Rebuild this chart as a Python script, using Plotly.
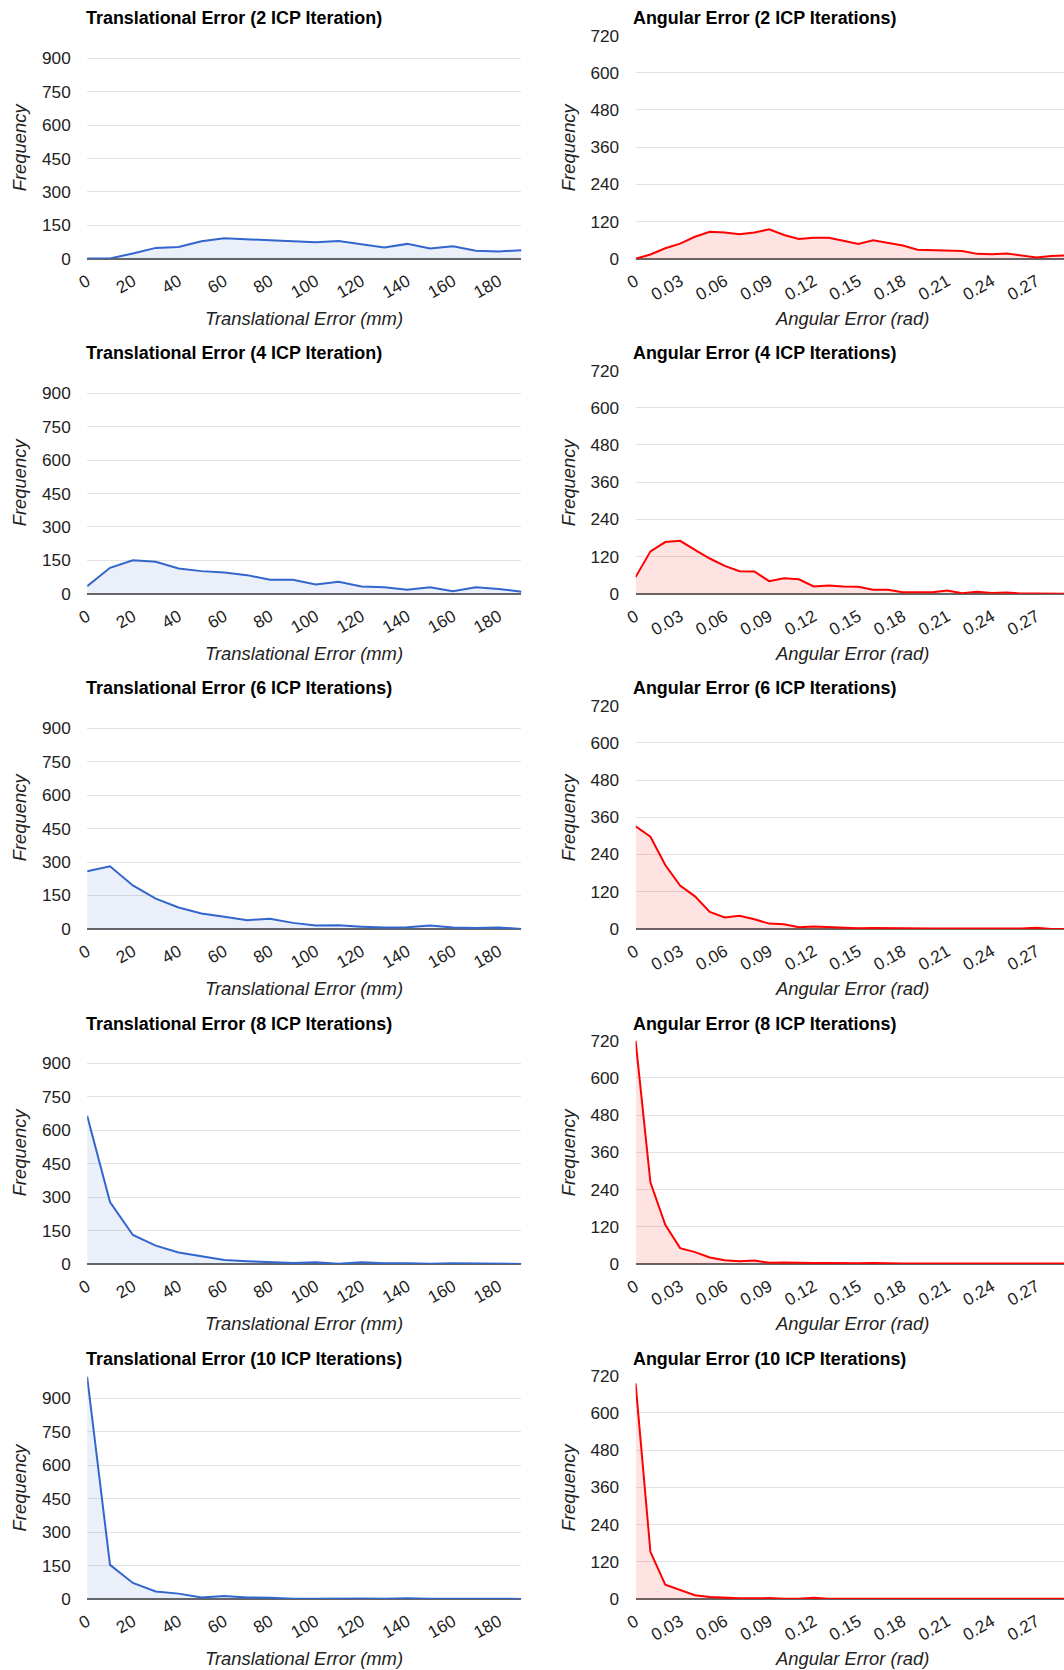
import plotly.graph_objects as go

# ---------------- data ----------------
trans_x = [0, 10, 20, 30, 40, 50, 60, 70, 80, 90, 100, 110, 120, 130, 140, 150, 160, 170, 180, 190]
ang_x = [0.00, 0.01, 0.02, 0.03, 0.04, 0.05, 0.06, 0.07, 0.08, 0.09, 0.10, 0.11, 0.12, 0.13, 0.14,
         0.15, 0.16, 0.17, 0.18, 0.19, 0.20, 0.21, 0.22, 0.23, 0.24, 0.25, 0.26, 0.27, 0.28, 0.29]

trans_2 = [1, 2, 24, 49, 53, 79, 92, 86, 83, 79, 74, 80, 64, 51, 67, 46, 56, 36, 33, 39]
trans_4 = [34, 117, 151, 144, 114, 102, 96, 84, 63, 63, 42, 54, 33, 30, 19, 30, 12, 30, 22, 10]
trans_6 = [259, 281, 195, 136, 96, 69, 54, 39, 46, 27, 15, 16, 10, 6, 7, 15, 6, 4, 6, 0]
trans_8 = [665, 278, 130, 82, 51, 34, 18, 12, 9, 4, 7, 1, 7, 3, 3, 1, 3, 3, 0, 0]
trans_10 = [997, 153, 72, 34, 24, 7, 13, 7, 6, 1, 1, 3, 2, 1, 3, 1, 2, 1, 1, 0]

ang_2 = [0, 14, 34, 49, 71, 87, 85, 79, 85, 95, 77, 64, 68, 68, 58, 48, 60, 52, 43, 29,
         27, 25, 25, 16, 15, 17, 11, 4, 9, 11]
ang_4 = [54, 137, 167, 171, 142, 114, 90, 73, 72, 41, 50, 47, 24, 27, 24, 23, 13, 13, 5, 5,
         5, 11, 2, 7, 3, 4, 1, 1, 1, 0]
ang_6 = [331, 297, 206, 140, 105, 55, 37, 42, 31, 17, 15, 5, 8, 6, 4, 2, 3, 2, 1, 2,
         1, 1, 2, 1, 1, 1, 1, 4, 0, 0]
ang_8 = [720, 263, 126, 51, 38, 21, 12, 9, 11, 4, 5, 3, 3, 3, 2, 2, 3, 1, 1, 1,
         1, 1, 1, 1, 1, 1, 1, 1, 1, 1]
ang_10 = [695, 152, 46, 29, 12, 6, 3, 2, 2, 3, 1, 1, 4, 1, 1, 1, 1, 3, 1, 1,
          1, 1, 1, 1, 1, 1, 1, 1, 1, 1]

trans_series = [trans_2, trans_4, trans_6, trans_8, trans_10]
ang_series = [ang_2, ang_4, ang_6, ang_8, ang_10]

trans_titles = ["Translational Error (2 ICP Iteration)",
                "Translational Error (4 ICP Iteration)",
                "Translational Error (6 ICP Iterations)",
                "Translational Error (8 ICP Iterations)",
                "Translational Error (10 ICP Iterations)"]
ang_titles = ["Angular Error (2 ICP Iterations)",
              "Angular Error (4 ICP Iterations)",
              "Angular Error (6 ICP Iterations)",
              "Angular Error (8 ICP Iterations)",
              "Angular Error (10 ICP Iterations)"]

trans_xtitle = "Translational Error (mm)"
ang_xtitle = "Angular Error (rad)"
y_title = "Frequency"

trans_yticks = [0, 150, 300, 450, 600, 750, 900]
ang_yticks = [0, 120, 240, 360, 480, 600, 720]
trans_xticks = [0, 20, 40, 60, 80, 100, 120, 140, 160, 180]
ang_xticks = [0, 0.03, 0.06, 0.09, 0.12, 0.15, 0.18, 0.21, 0.24, 0.27]

# ---------------- geometry ----------------
# target positions are given in screenshot pixels; the capture shows the page
# at a scale of about S, with an 8px body margin around the figure.
S = 0.988
MARGIN = 8
W = round(1064 / S) - MARGIN
H = round(1670 / S) - MARGIN


def fx(t):
    return (t / S - MARGIN) / W


def fy(t):
    return 1 - (t / S - MARGIN) / H


def fs(size):
    return size / S


ROW_STEP = 335.0
BASE0 = 256.7
PLOT_H = 223.3
L_X0, L_X1 = 83, 517
R_X0 = 631
ANG_PX_PER_RAD = 1483.0

FONT = "Liberation Sans, Arial, sans-serif"
TXT = "#222222"
BLUE = "#3366cc"
RED = "#ff0000"
GRID = "#e3e3e3"

fig = go.Figure()
annotations = []
layout = dict(
    width=W, height=H, autosize=False,
    margin=dict(l=0, r=0, t=0, b=0, pad=0),
    paper_bgcolor="white", plot_bgcolor="white",
    showlegend=False,
    font=dict(family=FONT, size=fs(17), color=TXT),
)

axis_common_x = dict(
    showgrid=False, zeroline=False, showline=False,
    tickangle=-30, ticks="outside", ticklen=5, tickcolor="rgba(0,0,0,0)",
    tickfont=dict(family=FONT, size=fs(17), color=TXT),
    fixedrange=True,
)
axis_common_y = dict(
    showgrid=True, gridcolor=GRID, gridwidth=1,
    zeroline=True, zerolinecolor="#666666", zerolinewidth=1.5,
    showline=False,
    ticks="outside", ticklen=12, tickcolor="rgba(0,0,0,0)",
    tickfont=dict(family=FONT, size=fs(17), color=TXT),
    fixedrange=True,
)

for k in range(5):
    off = ROW_STEP * k
    base = BASE0 + off
    top = base - PLOT_H
    ydom = [fy(base), fy(top)]
    for c in range(2):
        idx = 2 * k + c + 1
        sfx = "" if idx == 1 else str(idx)
        if c == 0:
            xs, ys, col, fill = trans_x, trans_series[k], BLUE, "rgba(51,102,204,0.10)"
            xdom = [fx(L_X0), fx(L_X1)]
            xr = [0, 190]
            yr = [0, 1002]
            xt, yt = trans_xticks, trans_yticks
            title, xtitle = trans_titles[k], trans_xtitle
            title_x = L_X0 - 3.5
            ylab_x = 15
            xt_center = 300
        else:
            xs, ys, col, fill = ang_x, ang_series[k], RED, "rgba(255,0,0,0.11)"
            xdom = [fx(R_X0), 1.0]
            xr = [0, (1064 - R_X0) / ANG_PX_PER_RAD]
            yr = [0, 720]
            xt, yt = ang_xticks, ang_yticks
            title, xtitle = ang_titles[k], ang_xtitle
            title_x = R_X0 - 4.5
            ylab_x = 563.5
            xt_center = 847
        fig.add_trace(go.Scatter(
            x=xs, y=ys, mode="lines", fill="tozeroy", fillcolor=fill,
            line=dict(color=col, width=2), xaxis="x" + sfx, yaxis="y" + sfx,
            hoverinfo="x+y",
        ))
        layout["xaxis" + sfx] = dict(axis_common_x, domain=xdom, range=xr,
                                     tickvals=xt, anchor="y" + sfx)
        layout["yaxis" + sfx] = dict(axis_common_y, domain=ydom, range=yr,
                                     tickvals=yt, anchor="x" + sfx)
        # chart title
        annotations.append(dict(
            text="<b>" + title + "</b>", x=fx(title_x), y=fy(16.3 + off),
            xref="paper", yref="paper", xanchor="left", yanchor="middle",
            showarrow=False, font=dict(family=FONT, size=fs(17.7), color="#000000"),
        ))
        # x axis title
        annotations.append(dict(
            text="<i>" + xtitle + "</i>", x=fx(xt_center), y=fy(316 + off),
            xref="paper", yref="paper", xanchor="center", yanchor="middle",
            showarrow=False, font=dict(family=FONT, size=fs(18.2), color=TXT),
        ))
        # y axis title
        annotations.append(dict(
            text="<i>" + y_title + "</i>", x=fx(ylab_x), y=fy((base + top) / 2),
            xref="paper", yref="paper", xanchor="center", yanchor="middle",
            textangle=-90, showarrow=False, font=dict(family=FONT, size=fs(18.2), color=TXT),
        ))

layout["annotations"] = annotations
fig.update_layout(**layout)
fig.write_html("out.html")
